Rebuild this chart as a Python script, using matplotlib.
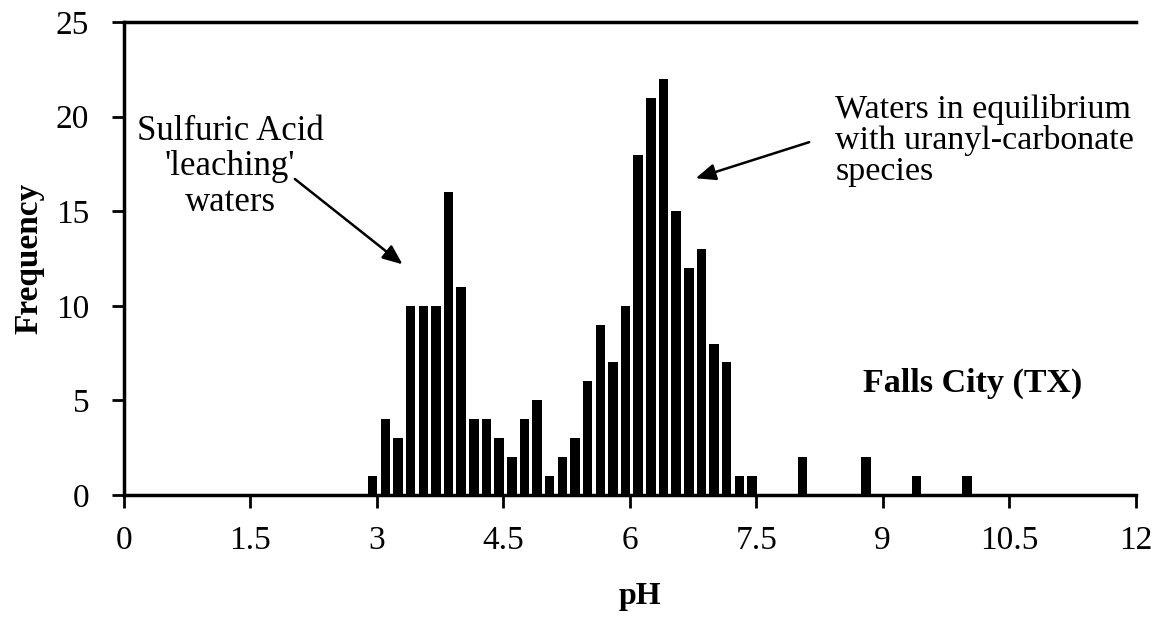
import matplotlib
matplotlib.use("Agg")
import matplotlib.pyplot as plt
import numpy as np

# pH bin centres (0.15 wide bins) and counts
ph_bins = [2.95, 3.10, 3.25, 3.40, 3.55, 3.70, 3.85, 4.00, 4.15, 4.30,
           4.45, 4.60, 4.75, 4.90, 5.05, 5.20, 5.35, 5.50, 5.65, 5.80,
           5.95, 6.10, 6.25, 6.40, 6.55, 6.70, 6.85, 7.00, 7.15, 7.30,
           7.45, 8.05, 8.80, 9.40, 10.00]
counts = [1, 4, 3, 10, 10, 10, 16, 11, 4, 4,
          3, 2, 4, 5, 1, 2, 3, 6, 9, 7,
          10, 18, 21, 22, 15, 12, 13, 8, 7, 1,
          1, 2, 2, 1, 1]
xticks = [0, 1.5, 3, 4.5, 6, 7.5, 9, 10.5, 12]
xticklabels = ["0", "1.5", "3", "4.5", "6", "7.5", "9", "10.5", "12"]
yticks = [0, 5, 10, 15, 20, 25]

plt.rcParams['font.family'] = ['Liberation Serif', 'DejaVu Serif']

fig = plt.figure(figsize=(11.54, 6.17), dpi=100)
ax = fig.add_axes([0.1075, 0.198, 0.8765, 0.766])

ax.bar(ph_bins, counts, width=0.113, color='black', align='center')

ax.set_xlim(0, 12)
ax.set_ylim(0, 25)
ax.set_xticks(xticks)
ax.set_xticklabels(xticklabels)
ax.set_yticks(yticks)
ax.tick_params(axis='both', labelsize=24, direction='out', length=9, width=2, color='black')
ax.tick_params(axis='x', pad=13)
ax.tick_params(axis='y', pad=16)

for s in ['left', 'bottom', 'top']:
    ax.spines[s].set_linewidth(2.5)
ax.spines['right'].set_visible(False)

ax.set_xlabel('pH', fontsize=23, fontweight='bold')
ax.set_ylabel('Frequency', fontsize=24, fontweight='bold', labelpad=8)
ax.xaxis.set_label_coords(0.51, -0.185)

# annotations
ax.text(1.26, 17.35, "Sulfuric Acid\n'leaching'\nwaters", fontsize=25,
        ha='center', va='center', linespacing=1.1)
ax.annotate("", xy=(3.33, 12.1), xytext=(2.0, 16.8),
            arrowprops=dict(arrowstyle='-|>,head_length=1.2,head_width=0.5',
                            color='black', lw=1.8))

ax.text(8.44, 18.75, "Waters in equilibrium\nwith uranyl-carbonate\nspecies",
        fontsize=24.5, ha='left', va='center', linespacing=1.0)
ax.annotate("", xy=(6.75, 16.7), xytext=(8.16, 18.7),
            arrowprops=dict(arrowstyle='-|>,head_length=1.2,head_width=0.5',
                            color='black', lw=1.8))

ax.text(8.77, 5.9, "Falls City (TX)", fontsize=24.5, fontweight='bold',
        ha='left', va='center')

fig.savefig("out.png", dpi=100)
